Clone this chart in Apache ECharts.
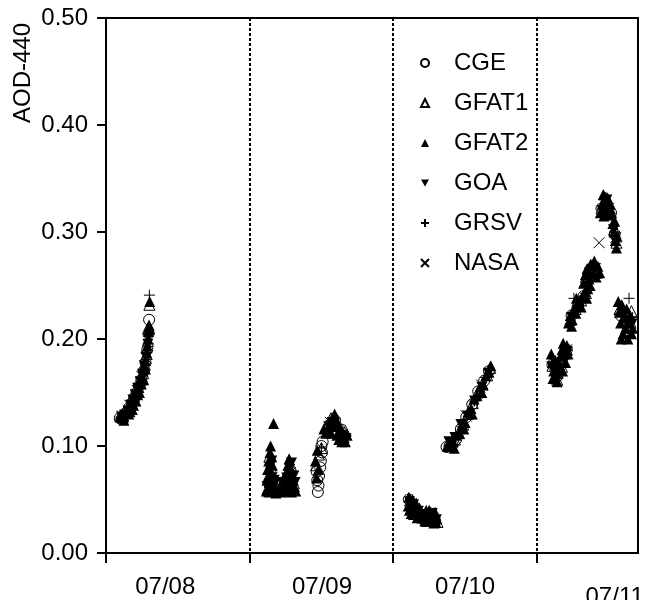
<!DOCTYPE html>
<html>
<head>
<meta charset="utf-8">
<script src="https://cdn.jsdelivr.net/npm/echarts@6/dist/echarts.min.js"></script>
<style>
  html, body { margin: 0; padding: 0; background: #fff; }
  #chart { width: 647px; height: 600px; }
</style>
</head>
<body>
<div id="chart"></div>
<script>
// horas desde 07/08 00:00, AOD a 440 nm
const seriesNames = ['CGE', 'GFAT1', 'GFAT2', 'GOA', 'GRSV', 'NASA'];
const dayTicks = [0, 24, 48, 72];
const dayLabels = ['07/08', '07/09', '07/10', '07/11'];
const labelHours = [9.9, 36.1, 60, 85];

const cge = [
  [2.3,0.126],[2.6,0.125],[2.9,0.128],[3.2,0.13],[3.5,0.132],[3.9,0.136],[4.3,0.14],[4.7,0.145],[5.1,0.15],[5.5,0.156],[5.9,0.162],[6.3,0.17],[6.6,0.178],[6.9,0.19],[7.1,0.205],[7.2,0.218],
  [35.4,0.057],[35.5,0.063],[35.3,0.068],[35.6,0.072],[35.2,0.076],[35.8,0.08],[35.9,0.086],[36.1,0.094],[36.0,0.1],[36.2,0.104],[37.4,0.118],[38.3,0.124],[39.5,0.112],
  [50.6,0.05],[51.2,0.046],[51.8,0.041],[52.4,0.036],[53.0,0.032],[53.6,0.031],[54.2,0.034],[55.0,0.03],[56.9,0.099],[57.4,0.1],[57.9,0.101],[58.5,0.106],[59.3,0.116],[60.2,0.127],[61.2,0.139],[62.2,0.151],[63.2,0.161],[64.0,0.17],
  [74.6,0.176],[75.4,0.165],[76.2,0.18],[77.0,0.19],[77.8,0.222],[78.8,0.23],[79.8,0.24],[80.6,0.26],[81.6,0.266],[82.8,0.322],[83.6,0.326],[84.4,0.318],[85.0,0.298],[86.0,0.222],[86.8,0.214],[87.6,0.21]
];
const gfat1 = [
  [2.4,0.128],[2.8,0.127],[3.3,0.131],[3.8,0.135],[4.2,0.14],[4.6,0.144],[5.0,0.15],[5.4,0.155],[5.8,0.162],[6.2,0.168],[6.5,0.176],[6.8,0.186],[7.0,0.198],[7.2,0.21],[7.25,0.232],
  [27.0,0.06],[27.4,0.07],[27.6,0.08],[27.3,0.09],[28.0,0.064],[30.3,0.062],[30.6,0.072],[30.9,0.082],[31.4,0.065],[35.1,0.082],[35.6,0.092],[36.0,0.098],[36.8,0.118],[37.6,0.126],[38.4,0.122],[39.2,0.112],[40.0,0.114],
  [50.8,0.049],[51.5,0.045],[52.2,0.038],[52.9,0.033],[53.6,0.03],[54.2,0.038],[54.9,0.032],[55.4,0.029],[57.2,0.1],[57.8,0.1],[58.3,0.106],[59.0,0.112],[59.7,0.12],[60.5,0.13],[61.3,0.14],[62.1,0.15],[62.9,0.158],[63.7,0.166],[64.2,0.173],
  [74.6,0.175],[75.4,0.162],[76.2,0.174],[77.0,0.19],[77.6,0.218],[78.5,0.228],[79.4,0.236],[80.2,0.243],[80.2,0.258],[81.0,0.266],[82.0,0.262],[82.8,0.322],[83.5,0.332],[84.2,0.322],[84.9,0.302],[85.3,0.29],[85.8,0.228],[86.6,0.216],[87.4,0.208],[87.8,0.226]
];
const gfat2 = [
  [2.4,0.127],[2.7,0.129],[3.0,0.128],[3.3,0.131],[3.6,0.133],[3.9,0.136],[4.2,0.139],[4.5,0.142],[4.8,0.146],[5.1,0.15],[5.4,0.155],[5.7,0.16],[6.0,0.165],[6.2,0.17],[6.4,0.175],[6.6,0.18],[6.8,0.187],[6.9,0.194],[7.0,0.2],[7.1,0.207],[7.2,0.213],[7.3,0.235],[3.8,0.13],[4.6,0.138],[5.3,0.148],[5.9,0.158],
  [3.0,0.124],[4.0,0.132],[4.4,0.134],[5.0,0.142],[5.6,0.15],[6.3,0.162],[6.6,0.172],
  [27.5,0.1],[27.4,0.094],[27.7,0.09],[27.2,0.086],[27.8,0.082],[27.0,0.078],[27.5,0.076],[28.0,0.072],[26.9,0.068],[27.3,0.066],[27.8,0.064],[28.2,0.062],[26.8,0.058],[27.2,0.057],[27.6,0.058],[28.4,0.056],[27.5,0.084],[27.1,0.072],
  [28.0,0.121],
  [28.7,0.058],[29.0,0.062],[29.3,0.057],[29.6,0.06],[29.9,0.064],
  [30.6,0.088],[30.4,0.082],[30.8,0.08],[30.2,0.076],[31.0,0.074],[30.5,0.07],[31.3,0.068],[30.1,0.066],[30.8,0.064],[31.5,0.062],[30.3,0.058],[31.0,0.057],[31.7,0.058],[30.6,0.076],
  [35.3,0.096],[35.0,0.086],[35.5,0.078],[35.2,0.07],
  [38.2,0.13],[37.9,0.125],[38.5,0.124],[37.5,0.12],[38.1,0.118],[38.8,0.12],[37.0,0.116],[37.6,0.112],[39.2,0.116],[39.5,0.112],[39.8,0.108],[40.0,0.104],[39.4,0.104],[38.6,0.11],[36.7,0.112],[40.3,0.11],[36.4,0.116],[38.9,0.106],
  [50.6,0.052],[50.9,0.046],[51.2,0.05],[51.5,0.042],[51.8,0.046],[52.1,0.038],[52.4,0.042],[52.7,0.034],[53.0,0.036],[53.3,0.03],[53.6,0.034],[53.9,0.031],[54.1,0.038],[54.4,0.034],[54.6,0.03],[54.9,0.035],[55.1,0.029],[55.3,0.032],
  [50.5,0.044],[50.7,0.04],[51.0,0.037],[51.4,0.036],[52.0,0.033],[53.5,0.04],[54.0,0.04],[54.8,0.028],[55.0,0.038],
  [57.0,0.1],[57.5,0.102],[58.0,0.104],[58.5,0.11],[59.0,0.112],[59.5,0.12],[60.0,0.122],[60.5,0.132],[61.0,0.135],[61.5,0.144],[62.0,0.147],[62.5,0.155],[63.0,0.157],[63.5,0.166],[64.0,0.169],[64.3,0.175],[58.2,0.098],[59.8,0.116],[61.2,0.13],[62.8,0.15],
  [74.4,0.186],[74.6,0.178],[74.8,0.17],[75.0,0.163],[75.2,0.172],[75.4,0.16],[75.6,0.168],[75.8,0.176],[76.0,0.184],[76.2,0.19],[76.4,0.196],[76.6,0.186],[76.8,0.178],[77.0,0.194],[76.3,0.17],[75.1,0.18],[74.7,0.163],[77.2,0.186],
  [77.3,0.215],[77.6,0.222],[77.9,0.218],[78.2,0.228],[78.5,0.224],[78.8,0.232],[79.1,0.236],[79.4,0.23],[79.7,0.24],[80.0,0.244],[80.3,0.238],[80.5,0.247],[77.8,0.212],[78.6,0.238],
  [79.8,0.252],[80.1,0.26],[80.4,0.266],[80.7,0.256],[81.0,0.27],[81.3,0.262],[81.6,0.273],[81.9,0.258],[82.2,0.268],[82.5,0.262],[80.9,0.25],
  [82.6,0.318],[82.9,0.326],[83.1,0.335],[83.4,0.33],[83.7,0.322],[84.0,0.316],[84.3,0.326],[84.5,0.318],[83.2,0.315],[83.8,0.332],
  [84.7,0.308],[84.9,0.3],[85.1,0.292],[85.3,0.285],[85.0,0.31],[85.4,0.296],
  [85.6,0.235],[85.8,0.225],[86.0,0.215],[86.2,0.232],[86.4,0.205],[86.6,0.22],[86.8,0.21],[87.0,0.228],[87.2,0.2],[87.4,0.215],[87.6,0.222],[87.8,0.205],[88.0,0.21],[86.1,0.2]
];
const goa = [
  [2.6,0.127],[3.1,0.129],[3.7,0.133],[4.1,0.138],[4.5,0.143],[4.9,0.148],[5.3,0.154],[5.7,0.16],[6.1,0.167],[6.4,0.175],[6.7,0.183],[7.0,0.195],[7.2,0.203],
  [27.3,0.062],[27.6,0.07],[27.4,0.08],[27.9,0.06],[28.3,0.066],[29.5,0.066],[30.4,0.064],[30.7,0.078],[31.2,0.06],[31.6,0.066],
  [26.9,0.062],[27.7,0.086],[28.1,0.068],[30.2,0.07],[31.0,0.084],[31.4,0.072],
  [37.2,0.118],[37.8,0.122],[38.6,0.116],[39.4,0.11],[40.1,0.107],
  [50.7,0.048],[51.4,0.045],[52.2,0.039],[53.1,0.032],[53.8,0.036],[54.5,0.037],[55.2,0.031],[57.3,0.104],[58.3,0.108],[59.3,0.12],[60.4,0.128],[61.6,0.142],[62.8,0.155],[63.9,0.168],
  [74.5,0.174],[75.6,0.164],[76.6,0.183],[77.1,0.188],[77.8,0.22],[79.0,0.228],[80.1,0.238],[80.8,0.262],[81.8,0.266],[82.9,0.32],[83.7,0.33],[84.8,0.302],[85.2,0.29],[86.3,0.222],[86.9,0.216],[87.9,0.214]
];
const grsv = [
  [2.5,0.127],[3.5,0.131],[4.5,0.143],[5.5,0.156],[6.2,0.17],[6.8,0.188],[7.1,0.205],[7.25,0.241],
  [27.6,0.074],[30.8,0.07],[36.0,0.098],[37.6,0.124],[38.8,0.12],[40.1,0.11],
  [51.0,0.047],[52.6,0.036],[54.6,0.035],[57.6,0.1],[59.5,0.118],[61.5,0.142],[63.5,0.164],
  [75.0,0.17],[76.8,0.19],[78.2,0.238],[80.0,0.24],[81.2,0.26],[83.2,0.33],[85.0,0.3],[87.4,0.238],[88.0,0.22]
];
const nasa = [
  [2.7,0.128],[4.0,0.138],[5.2,0.152],[6.0,0.165],[6.7,0.182],[7.1,0.2],
  [27.7,0.07],[30.8,0.075],[37.5,0.122],[39.0,0.115],
  [51.0,0.046],[53.4,0.031],[57.8,0.102],[60.2,0.128],[62.8,0.157],
  [75.2,0.168],[77.0,0.19],[79.0,0.23],[81.5,0.262],[82.4,0.29],[84.0,0.322],[85.2,0.295],[86.8,0.22]
];

const seriesData = [cge, gfat1, gfat2, goa, grsv, nasa];
const symbols = [
  'circle',
  'triangle',
  'triangle',
  'path://M0,0L10,0L5,9Z',
  'path://M5,0L5,10M0,5L10,5',
  'path://M0,0L10,10M10,0L0,10'
];
const filled = [false, false, true, true, false, false];

const FONT = 'Liberation Sans, Arial, Helvetica, sans-serif';
const chart = echarts.init(document.getElementById('chart'), null, { renderer: 'canvas' });

const series = seriesNames.map((name, i) => ({
  name,
  type: 'scatter',
  data: seriesData[i],
  symbol: symbols[i],
  symbolSize: 11,
  itemStyle: {
    color: filled[i] ? '#000' : 'rgba(0,0,0,0)',
    borderColor: '#000',
    borderWidth: filled[i] ? 0 : 1,
    opacity: 1
  },
  emphasis: { disabled: true }
}));

const option = {
  animation: false,
  backgroundColor: '#fff',
  textStyle: { fontFamily: FONT },
  grid: {
    left: 106, right: 9, top: 18, bottom: 47,
    outerBoundsMode: 'none', containLabel: false,
    show: true, borderColor: '#000', borderWidth: 2, backgroundColor: 'transparent'
  },
  legend: {
    orient: 'vertical',
    left: 415,
    top: 46,
    itemWidth: 8,
    itemHeight: 8,
    itemGap: 16,
    data: seriesNames,
    itemStyle: { opacity: 1 },
    textStyle: { fontFamily: FONT, fontSize: 24, color: '#000', padding: [0, 0, 0, 20] },
    selectedMode: false
  },
  xAxis: {
    type: 'value',
    min: 0,
    max: 88.9,
    interval: 24,
    axisLine: { lineStyle: { color: '#000', width: 2 } },
    axisTick: { show: true, length: 10, lineStyle: { color: '#000', width: 2 }, customValues: dayTicks },
    axisLabel: {
      customValues: labelHours,
      margin: 22,
      fontSize: 24,
      fontFamily: FONT,
      color: '#000',
      formatter: v => {
        const i = labelHours.indexOf(v);
        if (i < 0) return '';
        return i === dayLabels.length - 1 ? '{low|' + dayLabels[i] + '}' : dayLabels[i];
      },
      rich: { low: { fontSize: 24, fontFamily: FONT, color: '#000', padding: [10, 0, 0, 0] } }
    },
    splitLine: { show: true, lineStyle: { color: '#000', width: 2, type: [3, 2] } }
  },
  yAxis: {
    type: 'value',
    min: 0,
    max: 0.5,
    interval: 0.1,
    axisLine: { show: true, lineStyle: { color: '#000', width: 2 } },
    axisTick: { show: true, length: 9, lineStyle: { color: '#000', width: 2 } },
    axisLabel: { margin: 18, fontSize: 24, fontFamily: FONT, color: '#000', formatter: v => v.toFixed(2) },
    splitLine: { show: false }
  },
  graphic: [{
    type: 'text',
    x: 23,
    y: 73,
    rotation: Math.PI / 2,
    style: { text: 'AOD-440', fill: '#000', fontSize: 24, fontFamily: FONT, align: 'center', verticalAlign: 'middle' }
  }],
  series
};

chart.setOption(option);
</script>
</body>
</html>
